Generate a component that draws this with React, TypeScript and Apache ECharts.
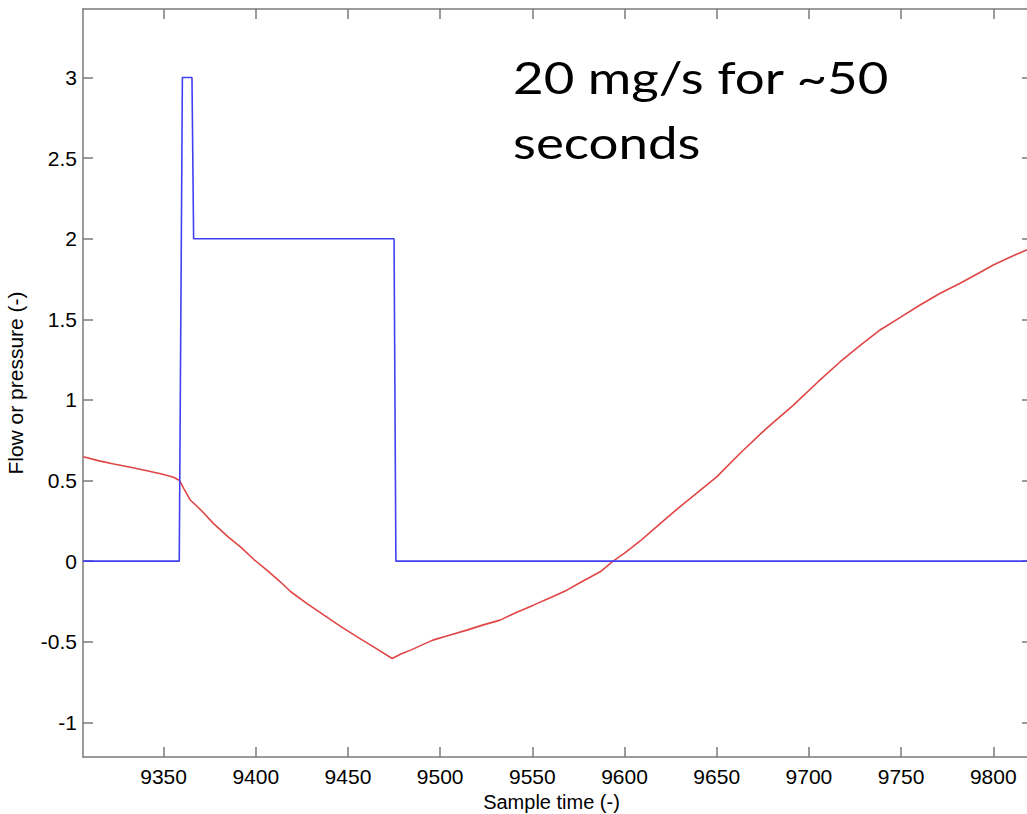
import React, { useEffect, useRef } from "react";
import * as echarts from "echarts";

const xTicks = [9350, 9400, 9450, 9500, 9550, 9600, 9650, 9700, 9750, 9800];
const yTicks = [-1, -0.5, 0, 0.5, 1, 1.5, 2, 2.5, 3];

const flowX = [9306.3, 9358.5, 9360.2, 9365.4, 9366.3, 9475, 9476, 9821];
const flowY = [0, 0, 3, 3, 2, 2, 0, 0];

const pressureX = [
  9306.5, 9315, 9323, 9332, 9341, 9349, 9355.4, 9358.7, 9361, 9364.5, 9370, 9377,
  9385, 9392, 9399, 9406, 9413, 9419, 9428, 9437, 9446, 9455, 9465, 9474, 9479,
  9484, 9496, 9505, 9514.5, 9523, 9532.5, 9541, 9550.6, 9560, 9568.7, 9578,
  9586.8, 9594, 9600, 9608.5, 9619, 9630, 9640, 9650, 9662.7, 9677, 9691.6,
  9705, 9717, 9728, 9738.6, 9750, 9760.3, 9771, 9782, 9791, 9800, 9809, 9818, 9821,
];
const pressureY = [
  0.647, 0.622, 0.602, 0.582, 0.561, 0.54, 0.52, 0.5, 0.45, 0.379, 0.32, 0.234,
  0.15, 0.085, 0.01, -0.056, -0.125, -0.19, -0.265, -0.335, -0.405, -0.47, -0.54,
  -0.604, -0.575, -0.552, -0.49, -0.46, -0.428, -0.397, -0.366, -0.32, -0.273,
  -0.225, -0.18, -0.12, -0.066, 0.002, 0.05, 0.125, 0.23, 0.337, 0.43, 0.523,
  0.669, 0.824, 0.968, 1.113, 1.237, 1.34, 1.434, 1.515, 1.589, 1.66, 1.724, 1.78,
  1.837, 1.885, 1.93, 1.945,
];

const annotationLines = ["20 mg/s for ~50", "seconds"];

const X_MIN = 9306.3;
const X_MAX = 9821;
const Y_MIN = -1.215;
const Y_MAX = 3.425;

export default function App() {
  const ref = useRef<HTMLDivElement>(null);

  useEffect(() => {
    if (!ref.current) return;
    const chart = echarts.init(ref.current, undefined, { renderer: "svg" });
    const axisColor = "#7a7a7a";
    const font = "'Liberation Sans', Arial, sans-serif";
    const fmt = (v: number) => String(v);
    const xBase = {
      type: "value" as const,
      min: X_MIN,
      max: X_MAX,
      axisLine: { show: true, onZero: false, lineStyle: { color: axisColor, width: 1.5 } },
      axisTick: { show: true, inside: true, length: 10, customValues: xTicks, lineStyle: { color: axisColor, width: 1.5 } },
      splitLine: { show: false },
    };
    const yBase = {
      type: "value" as const,
      min: Y_MIN,
      max: Y_MAX,
      axisLine: { show: true, onZero: false, lineStyle: { color: axisColor, width: 1.5 } },
      axisTick: { show: true, inside: true, length: 10, customValues: yTicks, lineStyle: { color: axisColor, width: 1.5 } },
      splitLine: { show: false },
    };
    chart.setOption({
      animation: false,
      backgroundColor: "#ffffff",
      grid: { left: 83, top: 9, width: 949, height: 748, containLabel: false, outerBoundsMode: "none" },
      xAxis: [
        {
          ...xBase,
          position: "bottom",
          name: "Sample time (-)",
          nameLocation: "middle",
          nameGap: 34,
          nameTextStyle: { color: "#000", fontSize: 20, fontFamily: font, padding: [0, 12, 0, 0] },
          axisLabel: {
            show: true,
            customValues: xTicks,
            formatter: fmt,
            color: "#000",
            fontSize: 21,
            fontFamily: font,
            margin: 9,
          },
        },
        { ...xBase, position: "top", axisLabel: { show: false } },
      ],
      yAxis: [
        {
          ...yBase,
          position: "left",
          name: "Flow or pressure (-)",
          nameLocation: "middle",
          nameGap: 57,
          nameTextStyle: { color: "#000", fontSize: 21, fontFamily: font },
          axisLabel: {
            show: true,
            customValues: yTicks,
            formatter: fmt,
            color: "#000",
            fontSize: 21,
            fontFamily: font,
            margin: 6,
          },
        },
        { ...yBase, position: "right", axisLabel: { show: false } },
      ],
      series: [
        {
          type: "line",
          name: "Pressure",
          data: pressureX.map((x, i) => [x, pressureY[i]]),
          showSymbol: false,
          lineStyle: { color: "#e04545", width: 1.6 },
          itemStyle: { color: "#e04545" },
          z: 2,
        },
        {
          type: "line",
          name: "Flow",
          data: flowX.map((x, i) => [x, flowY[i]]),
          showSymbol: false,
          lineStyle: { color: "#4040f0", width: 1.6 },
          itemStyle: { color: "#4040f0" },
          z: 3,
        },
      ],
      graphic: annotationLines.map((t, i) => ({
        type: "text",
        x: 513,
        y: 54 + i * 65,
        scaleX: 1.175,
        style: {
          text: t,
          fill: "#000",
          fontSize: 45,
          fontFamily: "Lato, sans-serif",
          verticalAlign: "top",
        },
        z: 10,
      })),
    });
    return () => chart.dispose();
  }, []);

  return (
    <div
      ref={ref}
      style={{ position: "fixed", left: 0, top: 0, width: 1027, height: 814, background: "#fff" }}
    />
  );
}
